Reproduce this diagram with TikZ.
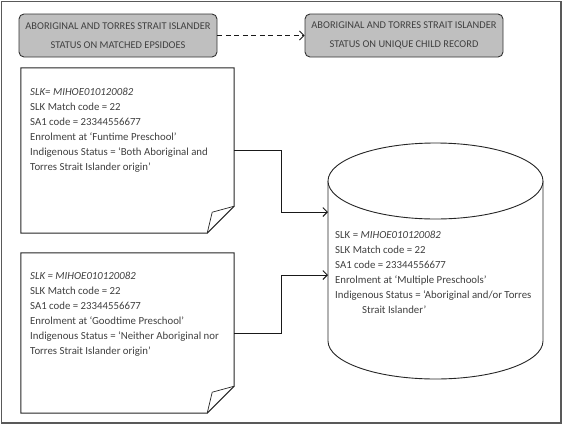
\documentclass[tikz,border=0pt]{standalone}
\usepackage{fontspec}
\setmainfont{Carlito}
\usetikzlibrary{arrows.meta}
\begin{document}
\begin{tikzpicture}[x=1pt,y=-1pt,
  frame/.style={draw=black!65,line width=1.4pt},
  hdr/.style={draw=black!80,fill=black!25,rounded corners=5pt,line width=0.9pt,
    minimum width=198pt,minimum height=43pt,inner sep=0pt,align=center,
    font=\fontsize{10.4}{19}\selectfont,text=black!75},
  docarea/.style={draw=none,minimum width=213pt,minimum height=165pt,inner sep=0pt},
  docline/.style={draw=black!85,fill=white,line width=1pt,line join=miter},
  curl/.style={draw=black!85,line width=0.7pt},
  bodytext/.style={anchor=north west,inner sep=0pt,align=left,
    font=\fontsize{10.8}{15}\selectfont,text=black!75},
  conn/.style={draw=black!90,line width=0.9pt,-{Straight Barb[length=4.5pt,width=9pt]}},
  dashconn/.style={conn,dash pattern=on 5pt off 3.5pt},
  cylline/.style={draw=black!85,line width=0.9pt,fill=white}
]
\useasboundingbox (0,0) rectangle (565,426);
\draw[frame] (1.5,1.5) rectangle (561,423);

% header boxes
\node[hdr] (hdr1) at (118,35.5) {ABORIGINAL AND TORRES STRAIT ISLANDER\\STATUS ON MATCHED EPSIDOES};
\node[hdr] (hdr2) at (404,35.5) {ABORIGINAL AND TORRES STRAIT ISLANDER\\STATUS ON UNIQUE CHILD RECORD};
\draw[dashconn] (hdr1.east) -- (hdr2.west);

% document 1
\node[docarea] (doc1) at (127.5,150.5) {};
\draw[docline] (doc1.north west) -- (doc1.north east) -- ([yshift=27pt]doc1.south east)
  -- ([xshift=-27pt]doc1.south east) -- (doc1.south west) -- cycle;
\draw[curl] ([yshift=27pt]doc1.south east) -- ([xshift=-22pt,yshift=21pt]doc1.south east)
  -- ([xshift=-27pt]doc1.south east);
\node[bodytext] (t1) at (30,87.5) {\itshape SLK= MIHOE010120082\\
SLK Match code = 22\\
SA1 code = 23344556677\\
Enrolment at ‘Funtime Preschool’\\
Indigenous Status = ‘Both Aboriginal and\\
Torres Strait Islander origin’};

% document 2
\node[docarea,minimum height=160pt] (doc2) at (127.5,333) {};
\draw[docline] (doc2.north west) -- (doc2.north east) -- ([yshift=27pt]doc2.south east)
  -- ([xshift=-27pt]doc2.south east) -- (doc2.south west) -- cycle;
\draw[curl] ([yshift=27pt]doc2.south east) -- ([xshift=-22pt,yshift=21pt]doc2.south east)
  -- ([xshift=-27pt]doc2.south east);
\node[bodytext] (t2) at (30,271.5) {\itshape SLK = MIHOE010120082\\
SLK Match code = 22\\
SA1 code = 23344556677\\
Enrolment at ‘Goodtime Preschool’\\
Indigenous Status = ‘Neither Aboriginal nor\\
Torres Strait Islander origin’};

% cylinder
\node[draw=none,minimum width=215pt,minimum height=235pt,inner sep=0pt] (cyl) at (435.5,261.5) {};
\draw[cylline] (328,181) -- (328,341) arc[start angle=180,end angle=360,x radius=107.5pt,y radius=38pt]
  -- (543,181);
\draw[cylline] (435.5,181) ellipse[x radius=107.5pt,y radius=38pt];
\node[bodytext] (t3) at (335,230.5) {SLK = \textit{MIHOE010120082}\\
SLK Match code = 22\\
SA1 code = 23344556677\\
Enrolment at ‘Multiple Preschools’\\
Indigenous Status = ‘Aboriginal and/or Torres\\
\hspace*{27pt}Strait Islander’};

% connectors
\coordinate (in1) at (328,212);
\coordinate (in2) at (328,275);
\coordinate (c1) at (281,212);
\coordinate (c2) at (281,275);
\draw[conn] (doc1.east) -| (c1) -- (in1);
\draw[conn] (doc2.east) -| (c2) -- (in2);
\end{tikzpicture}
\end{document}
